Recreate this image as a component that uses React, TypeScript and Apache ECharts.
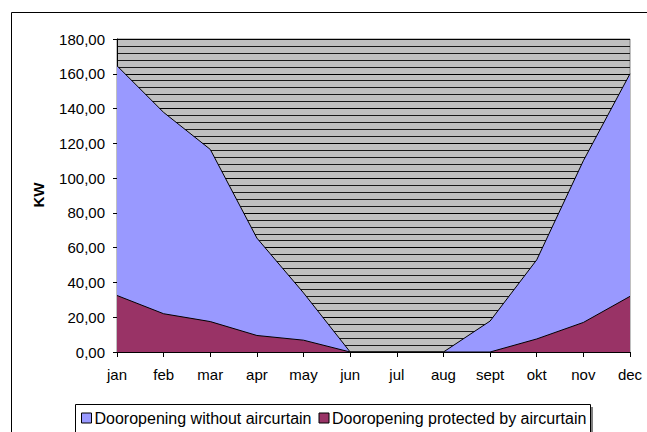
import React, { useEffect, useRef } from "react";
import * as echarts from "echarts";

const months = ["jan", "feb", "mar", "apr", "may", "jun", "jul", "aug", "sept", "okt", "nov", "dec"];
const withoutCurtain = [164.6, 137.8, 116.5, 65.5, 34, 0, 0, 0, 17.8, 53, 110, 160];
const withCurtain = [32.5, 22, 17.5, 9.5, 6.8, 0, 0, 0, 0, 7.5, 17, 32];
const seriesNames = ["Dooropening without aircurtain", "Dooropening protected by aircurtain"];
const yTicks = { min: 0, max: 180, interval: 20 };

const FONT = "'Liberation Sans', Arial, sans-serif";

export default function App() {
  const ref = useRef<HTMLDivElement>(null);
  useEffect(() => {
    const chart = echarts.init(ref.current!, null, { renderer: "svg" });
    chart.setOption({
      animation: false,
      textStyle: { fontFamily: FONT },
      graphic: [
        {
          type: "rect",
          shape: { x: 11.5, y: 12.5, width: 700, height: 500 },
          style: { fill: "none", stroke: "#000", lineWidth: 1 },
          z: -10,
          silent: true,
        },
        {
          type: "rect",
          shape: { x: 78, y: 407, width: 515, height: 30 },
          style: { fill: "#808080" },
          z: -5,
          silent: true,
        },
        {
          type: "rect",
          shape: { x: 75.5, y: 404.5, width: 515, height: 30 },
          style: { fill: "#fff", stroke: "#000", lineWidth: 1 },
          z: -4,
          silent: true,
        },
        {
          type: "text",
          x: 38,
          y: 195,
          rotation: Math.PI / 2,
          style: {
            text: "KW",
            fontFamily: FONT,
            fontSize: 15,
            fontWeight: "bold",
            fill: "#000",
            align: "center",
            verticalAlign: "middle",
          },
        },
      ],
      grid: {
        left: 117,
        right: 17,
        top: 39,
        bottom: 80,
        show: true,
        backgroundColor: "#C0C0C0",
        borderColor: "#808080",
        borderWidth: 1,
      },
      legend: {
        left: 79,
        top: 408,
        icon: "rect",
        itemWidth: 10,
        itemHeight: 10,
        itemGap: 7,
        padding: [2, 2],
        textStyle: { fontFamily: FONT, fontSize: 16, color: "#000", padding: [0, 0, 0, -2] },
        itemStyle: { borderColor: "#000", borderWidth: 1 },
        data: seriesNames,
      },
      xAxis: {
        type: "category",
        data: months,
        boundaryGap: false,
        axisLine: { lineStyle: { color: "#000", width: 1 } },
        axisTick: { show: true, length: 5, alignWithLabel: true, lineStyle: { color: "#000" } },
        axisLabel: { color: "#000", fontSize: 15, fontFamily: FONT, margin: 15 },
        splitLine: { show: false },
      },
      yAxis: {
        type: "value",
        min: yTicks.min,
        max: yTicks.max,
        interval: yTicks.interval,
        axisLine: { show: true, lineStyle: { color: "#000", width: 1 } },
        axisTick: { show: true, length: 4, lineStyle: { color: "#000" } },
        axisLabel: {
          color: "#000",
          fontSize: 15,
          fontFamily: FONT,
          margin: 12,
          formatter: (v: number) => v.toFixed(2).replace(".", ","),
        },
        splitLine: { show: true, lineStyle: { color: "#000", width: 1 } },
        minorTick: { show: false, splitNumber: 5 },
        minorSplitLine: { show: true, lineStyle: { color: "#1a1a1a", width: 1 } },
      },
      series: [
        {
          name: seriesNames[0],
          type: "line",
          data: withoutCurtain,
          symbol: "none",
          lineStyle: { color: "#000", width: 1 },
          itemStyle: { color: "#9999FF" },
          areaStyle: { color: "#9999FF", opacity: 1 },
          z: 2,
        },
        {
          name: seriesNames[1],
          type: "line",
          data: withCurtain,
          symbol: "none",
          lineStyle: { color: "#000", width: 1 },
          itemStyle: { color: "#993366" },
          areaStyle: { color: "#993366", opacity: 1 },
          z: 3,
        },
      ],
    });
    return () => chart.dispose();
  }, []);
  return (
    <div
      ref={ref}
      style={{ position: "fixed", left: 0, top: 0, width: 647, height: 432, background: "#fff" }}
    />
  );
}
